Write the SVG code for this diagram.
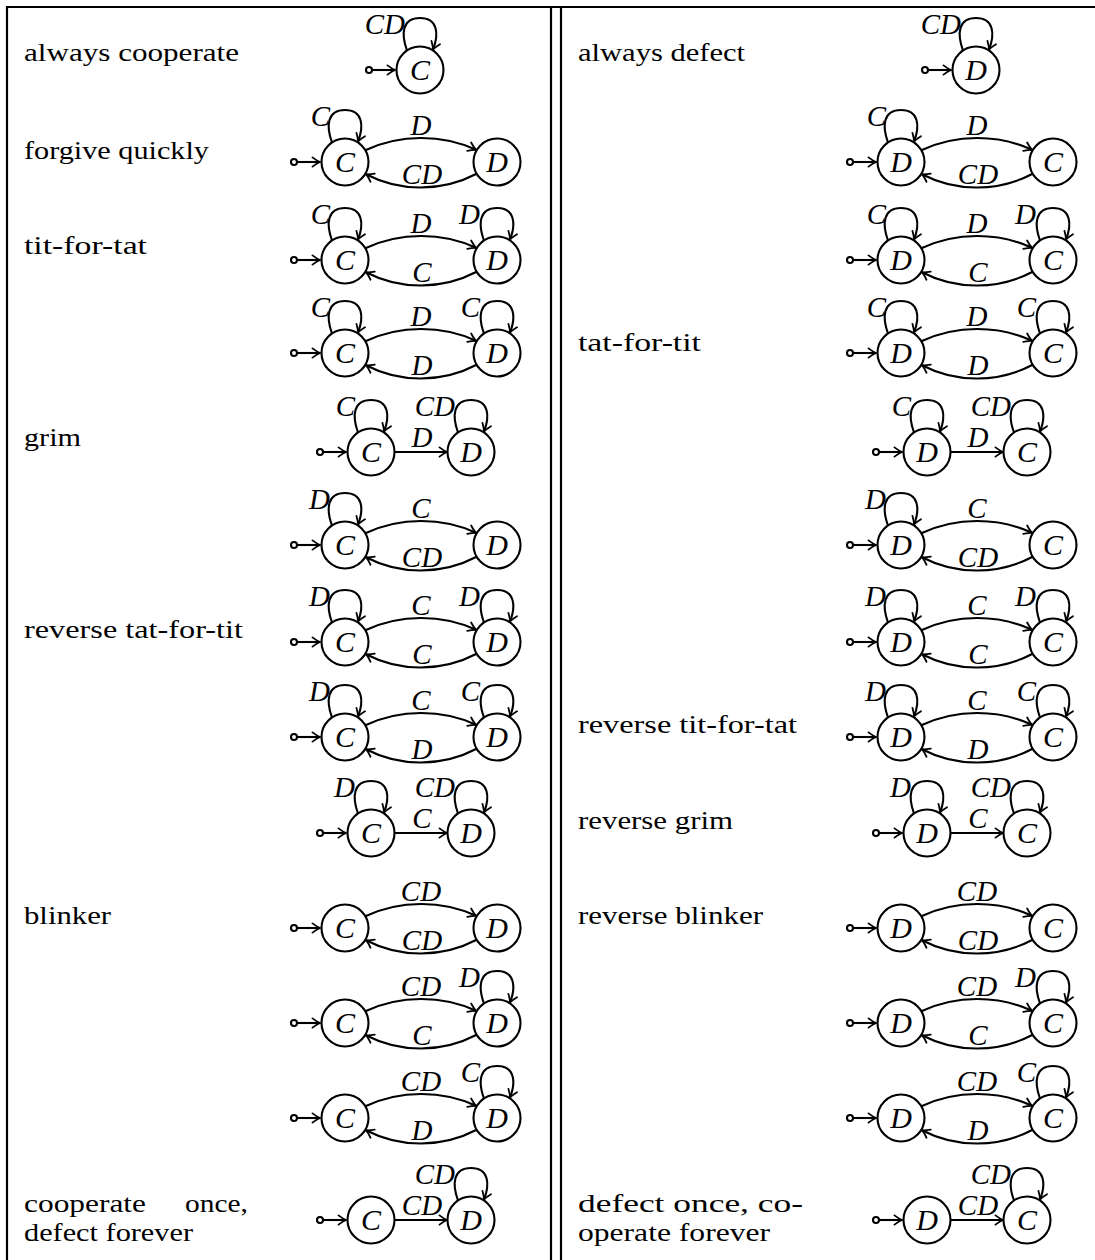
<svg xmlns="http://www.w3.org/2000/svg" xmlns:xlink="http://www.w3.org/1999/xlink" width="1095" height="1260" viewBox="0 0 1095 1260">
  <style>
    .t { font-family: "Liberation Serif", "Times New Roman", serif; font-size: 26px; fill: #000; }
    .m { font-family: "Liberation Serif", "Times New Roman", serif; font-style: italic; font-size: 29px; fill: #000; }
    .lc { text-anchor: middle; }
    .le { text-anchor: end; }
    .node circle { fill: #fff; stroke: #000; stroke-width: 2.1; }
    .node text { font-family: "Liberation Serif", "Times New Roman", serif; font-style: italic; font-size: 30px; text-anchor: middle; }
    .e { fill: none; stroke: #000; stroke-width: 2.1; marker-end: url(#arr); }
    .rule { stroke: #000; stroke-width: 2.2; fill: none; }
  </style>
  <defs>
    <marker id="arr" viewBox="-10 -7 12 14" markerWidth="12" markerHeight="14" refX="0" refY="0" orient="auto" markerUnits="userSpaceOnUse">
      <path d="M-7.5,-4.6 Q-3,-1.2 0,0 Q-3,1.2 -7.5,4.6" fill="none" stroke="#000" stroke-width="1.8" stroke-linecap="round"/>
    </marker>
    <!-- self loop above a state (origin = state centre) -->
    <path id="loop" class="e" d="M-13,-19.5 C-19,-36 -18,-52 0,-52 C18,-52 19,-36 13,-20.5"/>
    <!-- start marker: small dot with arrow into the state -->
    <g id="init">
      <circle cx="-51" cy="0" r="3" fill="#fff" stroke="#000" stroke-width="2.1"/>
      <path class="e" d="M-48,0 L-25,0"/>
    </g>
    <!-- bent edges between states 152 apart (origin = left state centre) -->
    <path id="arcT" class="e" d="M20.35,-11.75 C55,-28 97,-28 131,-12.2"/>
    <path id="arcB" class="e" d="M131.65,11.75 C97,30 55,30 21,12.2"/>
    <!-- straight edge between states 100 apart -->
    <path id="edge" class="e" d="M23.5,0 L76,0"/>
  </defs>

  <rect width="1095" height="1260" fill="#fff"/>

  <!-- table rules -->
  <g id="rules">
    <path class="rule" d="M7,7 H1095"/>
    <path class="rule" d="M7,6 V1260"/>
    <path class="rule" d="M551,6 V1260"/>
    <path class="rule" d="M561,6 V1260"/>
  </g>

  <!-- strategy names -->
  <g id="names-left">
    <text class="t" x="24" y="61" textLength="215" lengthAdjust="spacingAndGlyphs">always cooperate</text>
    <text class="t" x="24" y="159" textLength="185" lengthAdjust="spacingAndGlyphs">forgive quickly</text>
    <text class="t" x="24" y="254" textLength="123" lengthAdjust="spacingAndGlyphs">tit-for-tat</text>
    <text class="t" x="24" y="446" textLength="57" lengthAdjust="spacingAndGlyphs">grim</text>
    <text class="t" x="24" y="638" textLength="219" lengthAdjust="spacingAndGlyphs">reverse tat-for-tit</text>
    <text class="t" x="24" y="924" textLength="87" lengthAdjust="spacingAndGlyphs">blinker</text>
    <text class="t" x="24" y="1212" textLength="122" lengthAdjust="spacingAndGlyphs">cooperate</text>
    <text class="t" x="185" y="1212" textLength="63" lengthAdjust="spacingAndGlyphs">once,</text>
    <text class="t" x="24" y="1241" textLength="169" lengthAdjust="spacingAndGlyphs">defect forever</text>
  </g>
  <g id="names-right">
    <text class="t" x="578" y="61" textLength="167" lengthAdjust="spacingAndGlyphs">always defect</text>
    <text class="t" x="578" y="351" textLength="123" lengthAdjust="spacingAndGlyphs">tat-for-tit</text>
    <text class="t" x="578" y="733" textLength="219" lengthAdjust="spacingAndGlyphs">reverse tit-for-tat</text>
    <text class="t" x="578" y="829" textLength="155" lengthAdjust="spacingAndGlyphs">reverse grim</text>
    <text class="t" x="578" y="924" textLength="185" lengthAdjust="spacingAndGlyphs">reverse blinker</text>
    <text class="t" x="578" y="1212" textLength="225" lengthAdjust="spacingAndGlyphs">defect once, co-</text>
    <text class="t" x="578" y="1241" textLength="192" lengthAdjust="spacingAndGlyphs">operate forever</text>
  </g>

  <!-- connectors -->
  <g id="connectors">
    <!-- left column -->
    <use href="#init" x="420" y="70"/><use href="#loop" x="420" y="70"/>
    <use href="#init" x="345" y="162"/><use href="#loop" x="345" y="162"/><use href="#arcT" x="345" y="162"/><use href="#arcB" x="345" y="162"/>
    <use href="#init" x="345" y="260"/><use href="#loop" x="345" y="260"/><use href="#loop" x="497" y="260"/><use href="#arcT" x="345" y="260"/><use href="#arcB" x="345" y="260"/>
    <use href="#init" x="345" y="353"/><use href="#loop" x="345" y="353"/><use href="#loop" x="497" y="353"/><use href="#arcT" x="345" y="353"/><use href="#arcB" x="345" y="353"/>
    <use href="#init" x="371" y="452"/><use href="#loop" x="371" y="452"/><use href="#loop" x="471" y="452"/><use href="#edge" x="371" y="452"/>
    <use href="#init" x="345" y="545"/><use href="#loop" x="345" y="545"/><use href="#arcT" x="345" y="545"/><use href="#arcB" x="345" y="545"/>
    <use href="#init" x="345" y="642"/><use href="#loop" x="345" y="642"/><use href="#loop" x="497" y="642"/><use href="#arcT" x="345" y="642"/><use href="#arcB" x="345" y="642"/>
    <use href="#init" x="345" y="737"/><use href="#loop" x="345" y="737"/><use href="#loop" x="497" y="737"/><use href="#arcT" x="345" y="737"/><use href="#arcB" x="345" y="737"/>
    <use href="#init" x="371" y="833"/><use href="#loop" x="371" y="833"/><use href="#loop" x="471" y="833"/><use href="#edge" x="371" y="833"/>
    <use href="#init" x="345" y="928"/><use href="#arcT" x="345" y="928"/><use href="#arcB" x="345" y="928"/>
    <use href="#init" x="345" y="1023"/><use href="#loop" x="497" y="1023"/><use href="#arcT" x="345" y="1023"/><use href="#arcB" x="345" y="1023"/>
    <use href="#init" x="345" y="1118"/><use href="#loop" x="497" y="1118"/><use href="#arcT" x="345" y="1118"/><use href="#arcB" x="345" y="1118"/>
    <use href="#init" x="371" y="1220"/><use href="#loop" x="471" y="1220"/><use href="#edge" x="371" y="1220"/>
    <!-- right column -->
    <use href="#init" x="976" y="70"/><use href="#loop" x="976" y="70"/>
    <use href="#init" x="901" y="162"/><use href="#loop" x="901" y="162"/><use href="#arcT" x="901" y="162"/><use href="#arcB" x="901" y="162"/>
    <use href="#init" x="901" y="260"/><use href="#loop" x="901" y="260"/><use href="#loop" x="1053" y="260"/><use href="#arcT" x="901" y="260"/><use href="#arcB" x="901" y="260"/>
    <use href="#init" x="901" y="353"/><use href="#loop" x="901" y="353"/><use href="#loop" x="1053" y="353"/><use href="#arcT" x="901" y="353"/><use href="#arcB" x="901" y="353"/>
    <use href="#init" x="927" y="452"/><use href="#loop" x="927" y="452"/><use href="#loop" x="1027" y="452"/><use href="#edge" x="927" y="452"/>
    <use href="#init" x="901" y="545"/><use href="#loop" x="901" y="545"/><use href="#arcT" x="901" y="545"/><use href="#arcB" x="901" y="545"/>
    <use href="#init" x="901" y="642"/><use href="#loop" x="901" y="642"/><use href="#loop" x="1053" y="642"/><use href="#arcT" x="901" y="642"/><use href="#arcB" x="901" y="642"/>
    <use href="#init" x="901" y="737"/><use href="#loop" x="901" y="737"/><use href="#loop" x="1053" y="737"/><use href="#arcT" x="901" y="737"/><use href="#arcB" x="901" y="737"/>
    <use href="#init" x="927" y="833"/><use href="#loop" x="927" y="833"/><use href="#loop" x="1027" y="833"/><use href="#edge" x="927" y="833"/>
    <use href="#init" x="901" y="928"/><use href="#arcT" x="901" y="928"/><use href="#arcB" x="901" y="928"/>
    <use href="#init" x="901" y="1023"/><use href="#loop" x="1053" y="1023"/><use href="#arcT" x="901" y="1023"/><use href="#arcB" x="901" y="1023"/>
    <use href="#init" x="901" y="1118"/><use href="#loop" x="1053" y="1118"/><use href="#arcT" x="901" y="1118"/><use href="#arcB" x="901" y="1118"/>
    <use href="#init" x="927" y="1220"/><use href="#loop" x="1027" y="1220"/><use href="#edge" x="927" y="1220"/>

    <!-- transition labels, left column -->
    <g class="m">
      <text class="le" x="405" y="34">CD</text>
      <text class="le" x="330" y="126">C</text><text class="lc" x="421" y="135">D</text><text class="lc" x="422" y="184">CD</text>
      <text class="le" x="330" y="224">C</text><text class="le" x="480" y="224">D</text><text class="lc" x="421" y="233">D</text><text class="lc" x="422" y="282">C</text>
      <text class="le" x="330" y="317">C</text><text class="le" x="480" y="317">C</text><text class="lc" x="421" y="326">D</text><text class="lc" x="422" y="375">D</text>
      <text class="le" x="355" y="416">C</text><text class="le" x="455" y="416">CD</text><text class="lc" x="422" y="447">D</text>
      <text class="le" x="330" y="509">D</text><text class="lc" x="421" y="518">C</text><text class="lc" x="422" y="567">CD</text>
      <text class="le" x="330" y="606">D</text><text class="le" x="480" y="606">D</text><text class="lc" x="421" y="615">C</text><text class="lc" x="422" y="664">C</text>
      <text class="le" x="330" y="701">D</text><text class="le" x="480" y="701">C</text><text class="lc" x="421" y="710">C</text><text class="lc" x="422" y="759">D</text>
      <text class="le" x="355" y="797">D</text><text class="le" x="455" y="797">CD</text><text class="lc" x="422" y="828">C</text>
      <text class="lc" x="421" y="901">CD</text><text class="lc" x="422" y="950">CD</text>
      <text class="le" x="480" y="987">D</text><text class="lc" x="421" y="996">CD</text><text class="lc" x="422" y="1045">C</text>
      <text class="le" x="480" y="1082">C</text><text class="lc" x="421" y="1091">CD</text><text class="lc" x="422" y="1140">D</text>
      <text class="le" x="455" y="1184">CD</text><text class="lc" x="422" y="1215">CD</text>
    </g>
    <!-- transition labels, right column -->
    <g class="m">
      <text class="le" x="961" y="34">CD</text>
      <text class="le" x="886" y="126">C</text><text class="lc" x="977" y="135">D</text><text class="lc" x="978" y="184">CD</text>
      <text class="le" x="886" y="224">C</text><text class="le" x="1036" y="224">D</text><text class="lc" x="977" y="233">D</text><text class="lc" x="978" y="282">C</text>
      <text class="le" x="886" y="317">C</text><text class="le" x="1036" y="317">C</text><text class="lc" x="977" y="326">D</text><text class="lc" x="978" y="375">D</text>
      <text class="le" x="911" y="416">C</text><text class="le" x="1011" y="416">CD</text><text class="lc" x="978" y="447">D</text>
      <text class="le" x="886" y="509">D</text><text class="lc" x="977" y="518">C</text><text class="lc" x="978" y="567">CD</text>
      <text class="le" x="886" y="606">D</text><text class="le" x="1036" y="606">D</text><text class="lc" x="977" y="615">C</text><text class="lc" x="978" y="664">C</text>
      <text class="le" x="886" y="701">D</text><text class="le" x="1036" y="701">C</text><text class="lc" x="977" y="710">C</text><text class="lc" x="978" y="759">D</text>
      <text class="le" x="911" y="797">D</text><text class="le" x="1011" y="797">CD</text><text class="lc" x="978" y="828">C</text>
      <text class="lc" x="977" y="901">CD</text><text class="lc" x="978" y="950">CD</text>
      <text class="le" x="1036" y="987">D</text><text class="lc" x="977" y="996">CD</text><text class="lc" x="978" y="1045">C</text>
      <text class="le" x="1036" y="1082">C</text><text class="lc" x="977" y="1091">CD</text><text class="lc" x="978" y="1140">D</text>
      <text class="le" x="1011" y="1184">CD</text><text class="lc" x="978" y="1215">CD</text>
    </g>
  </g>

  <!-- states, left column -->
  <g id="s01L" class="node" transform="translate(420,70)"><circle r="23.5"/><text y="10">C</text></g>
  <g id="s02La" class="node" transform="translate(345,162)"><circle r="23.5"/><text y="10">C</text></g>
  <g id="s02Lb" class="node" transform="translate(497,162)"><circle r="23.5"/><text y="10">D</text></g>
  <g id="s03La" class="node" transform="translate(345,260)"><circle r="23.5"/><text y="10">C</text></g>
  <g id="s03Lb" class="node" transform="translate(497,260)"><circle r="23.5"/><text y="10">D</text></g>
  <g id="s04La" class="node" transform="translate(345,353)"><circle r="23.5"/><text y="10">C</text></g>
  <g id="s04Lb" class="node" transform="translate(497,353)"><circle r="23.5"/><text y="10">D</text></g>
  <g id="s05La" class="node" transform="translate(371,452)"><circle r="23.5"/><text y="10">C</text></g>
  <g id="s05Lb" class="node" transform="translate(471,452)"><circle r="23.5"/><text y="10">D</text></g>
  <g id="s06La" class="node" transform="translate(345,545)"><circle r="23.5"/><text y="10">C</text></g>
  <g id="s06Lb" class="node" transform="translate(497,545)"><circle r="23.5"/><text y="10">D</text></g>
  <g id="s07La" class="node" transform="translate(345,642)"><circle r="23.5"/><text y="10">C</text></g>
  <g id="s07Lb" class="node" transform="translate(497,642)"><circle r="23.5"/><text y="10">D</text></g>
  <g id="s08La" class="node" transform="translate(345,737)"><circle r="23.5"/><text y="10">C</text></g>
  <g id="s08Lb" class="node" transform="translate(497,737)"><circle r="23.5"/><text y="10">D</text></g>
  <g id="s09La" class="node" transform="translate(371,833)"><circle r="23.5"/><text y="10">C</text></g>
  <g id="s09Lb" class="node" transform="translate(471,833)"><circle r="23.5"/><text y="10">D</text></g>
  <g id="s10La" class="node" transform="translate(345,928)"><circle r="23.5"/><text y="10">C</text></g>
  <g id="s10Lb" class="node" transform="translate(497,928)"><circle r="23.5"/><text y="10">D</text></g>
  <g id="s11La" class="node" transform="translate(345,1023)"><circle r="23.5"/><text y="10">C</text></g>
  <g id="s11Lb" class="node" transform="translate(497,1023)"><circle r="23.5"/><text y="10">D</text></g>
  <g id="s12La" class="node" transform="translate(345,1118)"><circle r="23.5"/><text y="10">C</text></g>
  <g id="s12Lb" class="node" transform="translate(497,1118)"><circle r="23.5"/><text y="10">D</text></g>
  <g id="s13La" class="node" transform="translate(371,1220)"><circle r="23.5"/><text y="10">C</text></g>
  <g id="s13Lb" class="node" transform="translate(471,1220)"><circle r="23.5"/><text y="10">D</text></g>

  <!-- states, right column -->
  <g id="s01R" class="node" transform="translate(976,70)"><circle r="23.5"/><text y="10">D</text></g>
  <g id="s02Ra" class="node" transform="translate(901,162)"><circle r="23.5"/><text y="10">D</text></g>
  <g id="s02Rb" class="node" transform="translate(1053,162)"><circle r="23.5"/><text y="10">C</text></g>
  <g id="s03Ra" class="node" transform="translate(901,260)"><circle r="23.5"/><text y="10">D</text></g>
  <g id="s03Rb" class="node" transform="translate(1053,260)"><circle r="23.5"/><text y="10">C</text></g>
  <g id="s04Ra" class="node" transform="translate(901,353)"><circle r="23.5"/><text y="10">D</text></g>
  <g id="s04Rb" class="node" transform="translate(1053,353)"><circle r="23.5"/><text y="10">C</text></g>
  <g id="s05Ra" class="node" transform="translate(927,452)"><circle r="23.5"/><text y="10">D</text></g>
  <g id="s05Rb" class="node" transform="translate(1027,452)"><circle r="23.5"/><text y="10">C</text></g>
  <g id="s06Ra" class="node" transform="translate(901,545)"><circle r="23.5"/><text y="10">D</text></g>
  <g id="s06Rb" class="node" transform="translate(1053,545)"><circle r="23.5"/><text y="10">C</text></g>
  <g id="s07Ra" class="node" transform="translate(901,642)"><circle r="23.5"/><text y="10">D</text></g>
  <g id="s07Rb" class="node" transform="translate(1053,642)"><circle r="23.5"/><text y="10">C</text></g>
  <g id="s08Ra" class="node" transform="translate(901,737)"><circle r="23.5"/><text y="10">D</text></g>
  <g id="s08Rb" class="node" transform="translate(1053,737)"><circle r="23.5"/><text y="10">C</text></g>
  <g id="s09Ra" class="node" transform="translate(927,833)"><circle r="23.5"/><text y="10">D</text></g>
  <g id="s09Rb" class="node" transform="translate(1027,833)"><circle r="23.5"/><text y="10">C</text></g>
  <g id="s10Ra" class="node" transform="translate(901,928)"><circle r="23.5"/><text y="10">D</text></g>
  <g id="s10Rb" class="node" transform="translate(1053,928)"><circle r="23.5"/><text y="10">C</text></g>
  <g id="s11Ra" class="node" transform="translate(901,1023)"><circle r="23.5"/><text y="10">D</text></g>
  <g id="s11Rb" class="node" transform="translate(1053,1023)"><circle r="23.5"/><text y="10">C</text></g>
  <g id="s12Ra" class="node" transform="translate(901,1118)"><circle r="23.5"/><text y="10">D</text></g>
  <g id="s12Rb" class="node" transform="translate(1053,1118)"><circle r="23.5"/><text y="10">C</text></g>
  <g id="s13Ra" class="node" transform="translate(927,1220)"><circle r="23.5"/><text y="10">D</text></g>
  <g id="s13Rb" class="node" transform="translate(1027,1220)"><circle r="23.5"/><text y="10">C</text></g>
</svg>
